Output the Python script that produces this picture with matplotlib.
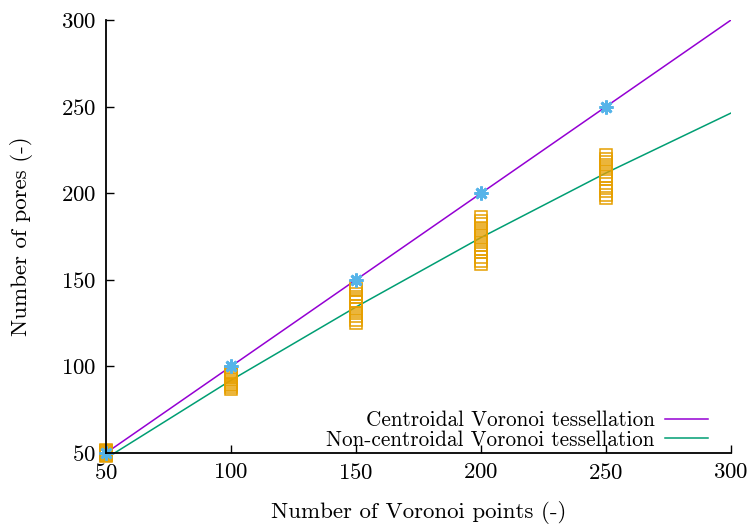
import numpy as np
from matplotlib import pyplot as plt

plt.rcParams['font.family'] = ['cmr10', 'DejaVu Serif']
plt.rcParams['axes.formatter.use_mathtext'] = True
plt.rcParams['mathtext.fontset'] = 'cm'

###########################
# données
N_points = [50, 100, 150, 200, 250]

# centroidal : nombre de pores = nombre de points
centroidal_y = [50, 100, 150, 200, 250]

# non centroidal : plusieurs tirages par N
non_centroidal = {
    50: [48, 49, 50, 50, 51, 52, 49, 51],
    100: [87, 88, 89, 90, 91, 92, 93, 94, 95, 96, 97],
    150: [125, 127, 129, 131, 133, 135, 137, 138, 140, 142, 144, 146],
    200: [159, 161, 163, 166, 168, 170, 172, 174, 176, 178, 180, 182, 184, 186],
    250: [197, 199, 201, 203, 208, 210, 212, 214, 216, 218, 220, 222],
}

# courbes d'ajustement (lues)
fit_x = [50, 300]
fit_centroidal = [50, 300]
fit2_x = [50, 100, 150, 200, 250, 300]
fit_non_centroidal = [46.9, 92.0, 134.3, 174.4, 211.7, 246.3]

Titre_X = 'Number of Voronoi points (-)'
Titre_Y = 'Number of pores (-)'
Nom_1 = 'Centroidal Voronoi tessellation'
Nom_2 = 'Non-centroidal Voronoi tessellation'
Taille = 16.5
Taille_legende = 15.3
###########################

fig = plt.figure(figsize=(7.5, 5.24), dpi=100)
ax = fig.add_axes([0.1413, 0.1355, 0.8334, 0.8263])

ax.plot(fit_x, fit_centroidal, '-', color='#9400D3', lw=1.1, label=Nom_1)
ax.plot(fit2_x, fit_non_centroidal, '-', color='#009E73', lw=1.1, label=Nom_2)

for n in N_points:
    ys = non_centroidal[n]
    ax.plot([n] * len(ys), ys, 's', mfc='none', mec='#E69F00', ms=9, mew=1.1,
            linestyle='none', clip_on=False)
ax.plot(N_points, centroidal_y, marker=(8, 2, 0), color='#56B4E9', ms=10, mew=2,
        linestyle='none', clip_on=False)

ax.set_xlim(50, 300)
ax.set_ylim(50, 300)
ax.set_xticks([50, 100, 150, 200, 250, 300])
ax.set_yticks([50, 100, 150, 200, 250, 300])
ax.tick_params(axis='both', direction='in', length=6, width=1, labelsize=Taille, pad=7)
ax.spines['top'].set_visible(False)
ax.spines['right'].set_visible(False)
for s in ['left', 'bottom']:
    ax.spines[s].set_linewidth(1.3)

ax.set_xlabel(Titre_X, fontsize=Taille, labelpad=13)
ax.set_ylabel(Titre_Y, fontsize=Taille, labelpad=20)

ax.legend(loc='lower right', frameon=False, markerfirst=False, fontsize=Taille_legende,
          handlelength=2.0, handletextpad=0.49, labelspacing=0.0,
          borderaxespad=0.0, bbox_to_anchor=(0.976, -0.012))

fig.savefig('out.png', dpi=100)
